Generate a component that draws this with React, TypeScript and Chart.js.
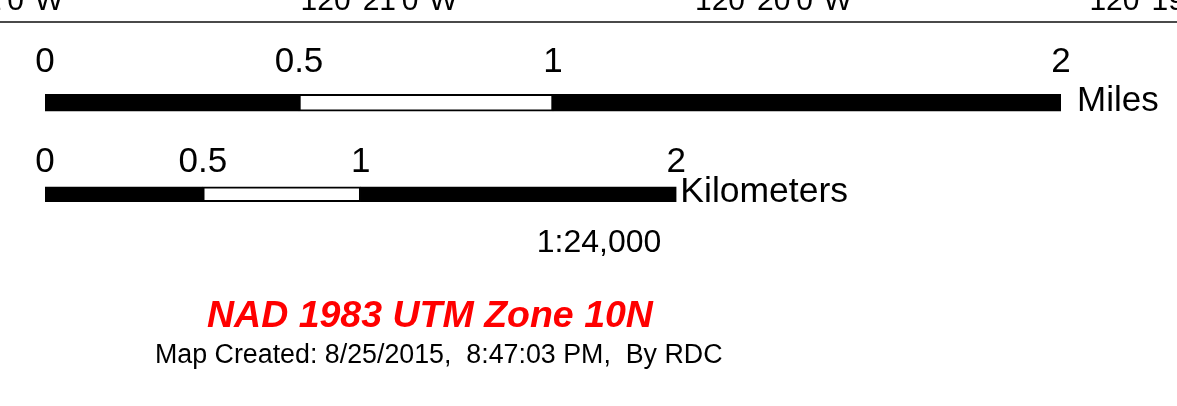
import { useEffect, useRef } from "react";
import { Chart, registerables } from "chart.js";

Chart.register(...registerables);

// ---- data ----
const rowLabels = ["Miles", "Kilometers"];
const mileTicks = [0, 0.5, 1, 2];
const kmTicks = [0, 0.5, 1, 2];
const kmPerMile = 1.609344;
const segmentColors = ["#000000", "#ffffff", "#000000"];
const longitudeLabels = ["120°22'0\"W", "120°21'0\"W", "120°20'0\"W", "120°19'0\"W"];
const scaleText = "1:24,000";
const projectionText = "NAD 1983 UTM Zone 10N";
const creditText = "Map Created: 8/25/2015,  8:47:03 PM,  By RDC";

const FONT = '"Liberation Sans", Arial, Helvetica, sans-serif';

const rows = [
  { axis: "x", ticks: mileTicks, label: rowLabels[0], thickness: 17, labelGap: 22, unitGap: 16, unitSize: 35 },
  { axis: "xKm", ticks: kmTicks, label: rowLabels[1], thickness: 15, labelGap: 15, unitGap: 4, unitSize: 35.5 },
];

const overlayPlugin = {
  id: "scaleOverlay",
  afterDatasetsDraw(chart: any) {
    const ctx = chart.ctx as CanvasRenderingContext2D;
    ctx.save();
    // map frame line
    ctx.strokeStyle = "#4a4a4a";
    ctx.lineWidth = 2;
    ctx.beginPath();
    ctx.moveTo(0, 22);
    ctx.lineTo(chart.width, 22);
    ctx.stroke();

    // longitude labels (cut by the top edge)
    ctx.fillStyle = "#000";
    ctx.font = `30px ${FONT}`;
    ctx.textAlign = "right";
    ctx.textBaseline = "alphabetic";
    longitudeLabels.forEach((t, i) => ctx.fillText(t, 63 + i * 394.4, 10));

    // scale bar tick labels and units
    const yScale = chart.scales.y;
    rows.forEach((row, r) => {
      const xs = chart.scales[row.axis];
      const yc = yScale.getPixelForValue(r);
      const top = yc - row.thickness / 2;
      const bottom = yc + row.thickness / 2;
      ctx.font = `35px ${FONT}`;
      ctx.textAlign = "center";
      ctx.fillStyle = "#000";
      row.ticks.forEach((t) => {
        ctx.fillText(String(t), xs.getPixelForValue(t), top - row.labelGap);
      });
      ctx.font = `${row.unitSize}px ${FONT}`;
      ctx.textAlign = "left";
      ctx.fillText(row.label, xs.getPixelForValue(row.ticks[row.ticks.length - 1]) + row.unitGap, bottom);
    });

    // representative fraction
    ctx.font = `32px ${FONT}`;
    ctx.textAlign = "center";
    ctx.fillText(scaleText, 599, 252);

    // projection
    ctx.font = `italic bold 37.5px ${FONT}`;
    ctx.textAlign = "left";
    ctx.fillStyle = "#ff0000";
    ctx.fillText(projectionText, 207, 327);

    // credit
    ctx.font = `26.8px ${FONT}`;
    ctx.fillStyle = "#000";
    ctx.fillText(creditText, 155, 363);
    ctx.restore();
  },
};

export default function App() {
  const ref = useRef<HTMLCanvasElement>(null);

  useEffect(() => {
    if (!ref.current) return;
    const datasets: any[] = [];
    rows.forEach((row, r) => {
      row.ticks.slice(1).forEach((end, k) => {
        const start = row.ticks[k];
        datasets.push({
          label: `${row.label} ${start}-${end}`,
          data: rowLabels.map((_, j) => (j === r ? [start, end] : null)),
          xAxisID: row.axis,
          yAxisID: "y",
          backgroundColor: segmentColors[k % segmentColors.length],
          borderColor: "#000000",
          borderWidth: 2,
          borderSkipped: false,
          barThickness: row.thickness,
          grouped: false,
        });
      });
    });

    const chart = new Chart(ref.current, {
      type: "bar",
      data: { labels: rowLabels, datasets },
      options: {
        indexAxis: "y",
        responsive: false,
        animation: false,
        layout: { padding: { left: 45, right: 116, top: 57, bottom: 166 } },
        scales: {
          x: { type: "linear", axis: "x", min: 0, max: mileTicks[mileTicks.length - 1], display: false },
          xKm: {
            type: "linear",
            axis: "x",
            min: 0,
            max: mileTicks[mileTicks.length - 1] * kmPerMile,
            display: false,
          },
          y: { type: "category", labels: rowLabels, offset: true, display: false },
        },
        plugins: { legend: { display: false }, tooltip: { enabled: false }, title: { display: false } },
      } as any,
      plugins: [overlayPlugin],
    });
    return () => chart.destroy();
  }, []);

  return (
    <div style={{ position: "absolute", left: 0, top: 0, width: 1177, height: 406, background: "#fff" }}>
      <canvas ref={ref} width={1177} height={406} style={{ display: "block" }} />
    </div>
  );
}
